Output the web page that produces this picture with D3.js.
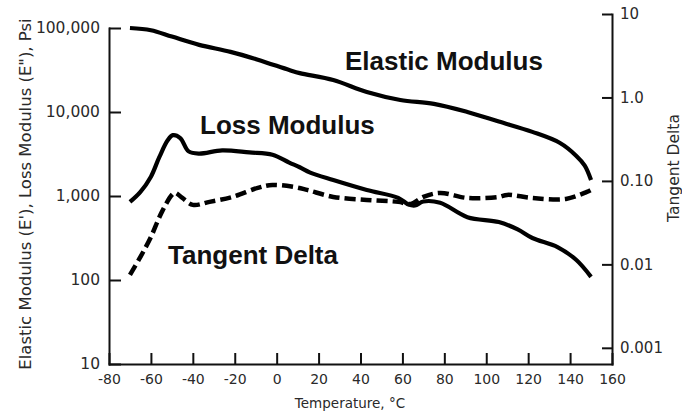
<!DOCTYPE html>
<html>
<head>
<meta charset="utf-8">
<script src="https://cdn.jsdelivr.net/npm/d3@7"></script>
<style>
  body { margin: 0; background: #fff; }
  svg { display: block; }
  .tick text { font-family: "DejaVu Sans", sans-serif; fill: #2a2a2a; }
  .domain, .tick line { stroke: #111; stroke-width: 2; }
</style>
</head>
<body>
<svg id="chart" width="682" height="414"></svg>
<script>
// Axis ticks and their printed labels
const tempTicks = [-80, -60, -40, -20, 0, 20, 40, 60, 80, 100, 120, 140, 160];
const tempTickLabels = ["-80", "-60", "-40", "-20", "0", "20", "40", "60", "80", "100", "120", "140", "160"];
const modulusTicks = [10, 100, 1000, 10000, 100000];
const modulusTickLabels = ["10", "100", "1,000", "10,000", "100,000"];
const tanDeltaTicks = [0.001, 0.01, 0.1, 1, 10];
const tanDeltaTickLabels = ["0.001", "0.01", "0.10", "1.0", "10"];

// Elastic modulus E' (psi) vs temperature (°C)
const elasticTemp = [-70, -60, -50, -37, -22, -9, 6, 11, 27, 43, 59, 75, 91, 106, 122, 135, 143, 147, 150];
const elasticPsi  = [100000, 94000, 79000, 63000, 52000, 42000, 31600, 29000, 24000, 17300, 13900, 12500, 10000, 7700, 5800, 4300, 3000, 2300, 1550];

// Loss modulus E" (psi) vs temperature (°C)
const lossTemp = [-70, -65, -60, -56, -52, -49.5, -46, -42, -37, -26, -13, -2, 6, 11, 16, 27, 43, 58, 63, 66, 70, 78, 91, 106, 115, 122, 134, 143, 150];
const lossPsi  = [850, 1120, 1700, 2900, 4600, 5300, 4900, 3400, 3200, 3500, 3300, 3100, 2500, 2200, 1900, 1550, 1180, 950, 790, 770, 860, 830, 560, 490, 400, 316, 247, 173, 109];

// Tangent delta (E"/E') vs temperature (°C)
const tanDeltaTemp  = [-70, -65, -60, -55, -50, -48.5, -45, -40, -32, -21, -9, -2, 8, 14.5, 27, 43, 58, 64, 70, 78, 91, 106, 110, 122, 138, 148, 150];
const tanDeltaValue = [0.0075, 0.0123, 0.0213, 0.0414, 0.068, 0.072, 0.0625, 0.0516, 0.0561, 0.0643, 0.0824, 0.0895, 0.0848, 0.078, 0.0643, 0.0592, 0.0561, 0.053, 0.0643, 0.0718, 0.0625, 0.0643, 0.068, 0.0625, 0.0608, 0.0738, 0.078];

const svg = d3.select("#chart");
svg.append("rect").attr("width", 682).attr("height", 414).attr("fill", "#fff");

const x = d3.scaleLinear().domain([-80, 160]).range([109, 612]);
const yLeft = d3.scaleLog().domain([10, 100000]).range([364, 28]);
const yRight = d3.scaleLog().domain([0.00064, 10]).range([364, 14]);

// Axes (ticks point into the plot)
const gx = svg.append("g").attr("transform", "translate(0,364)")
  .call(d3.axisBottom(x).tickValues(tempTicks).tickFormat((d, i) => tempTickLabels[i])
    .tickSizeInner(-11).tickSizeOuter(0).tickPadding(10));
gx.selectAll(".tick text").style("font-size", "14px");

const gl = svg.append("g").attr("transform", "translate(109,0)")
  .call(d3.axisLeft(yLeft).tickValues(modulusTicks).tickFormat((d, i) => modulusTickLabels[i])
    .tickSizeInner(-12).tickSizeOuter(0).tickPadding(9));
gl.selectAll(".tick text").style("font-size", "15.5px");

const gr = svg.append("g").attr("transform", "translate(612,0)")
  .call(d3.axisRight(yRight).tickValues(tanDeltaTicks).tickFormat((d, i) => tanDeltaTickLabels[i])
    .tickSizeInner(-10).tickSizeOuter(0).tickPadding(8));
gr.selectAll(".tick text").style("font-size", "15px");

svg.selectAll(".domain").attr("stroke-linecap", "square");

// Axis titles
svg.append("text")
  .attr("transform", "translate(31,194) rotate(-90)")
  .attr("text-anchor", "middle")
  .style("font-family", "DejaVu Sans, sans-serif").style("font-size", "16.5px").attr("fill", "#2a2a2a")
  .text("Elastic Modulus (E'), Loss Modulus (E\"), Psi");

svg.append("text")
  .attr("transform", "translate(679,168) rotate(-90)")
  .attr("text-anchor", "middle")
  .style("font-family", "DejaVu Sans, sans-serif").style("font-size", "15.5px").attr("fill", "#2a2a2a")
  .text("Tangent Delta");

svg.append("text")
  .attr("x", 350).attr("y", 408)
  .attr("text-anchor", "middle")
  .style("font-family", "DejaVu Sans, sans-serif").style("font-size", "13.5px").attr("fill", "#2a2a2a")
  .text("Temperature, °C");

// Curves
const pts = (ts, vs) => ts.map((t, i) => ({ t, v: vs[i] }));
const leftLine = d3.line().x(d => x(d.t)).y(d => yLeft(d.v)).curve(d3.curveCatmullRom.alpha(0.5));
const rightLine = d3.line().x(d => x(d.t)).y(d => yRight(d.v)).curve(d3.curveCatmullRom.alpha(0.5));

svg.append("path").datum(pts(elasticTemp, elasticPsi))
  .attr("d", leftLine).attr("fill", "none").attr("stroke", "#000").attr("stroke-width", 4.2);

svg.append("path").datum(pts(lossTemp, lossPsi))
  .attr("d", leftLine).attr("fill", "none").attr("stroke", "#000").attr("stroke-width", 4.2);

svg.append("path").datum(pts(tanDeltaTemp, tanDeltaValue))
  .attr("d", rightLine).attr("fill", "none").attr("stroke", "#000").attr("stroke-width", 4.5)
  .attr("stroke-dasharray", "11,5");

// Series labels
const seriesLabels = [
  { text: "Elastic Modulus", x: 345, y: 70 },
  { text: "Loss Modulus", x: 200, y: 134 },
  { text: "Tangent Delta", x: 168, y: 264 }
];
svg.selectAll("text.series").data(seriesLabels).enter().append("text")
  .attr("class", "series")
  .attr("x", d => d.x).attr("y", d => d.y)
  .style("font-family", "Liberation Sans, Arial, sans-serif").style("font-weight", "bold").style("font-size", "26px")
  .attr("fill", "#111")
  .text(d => d.text);
</script>
</body>
</html>
